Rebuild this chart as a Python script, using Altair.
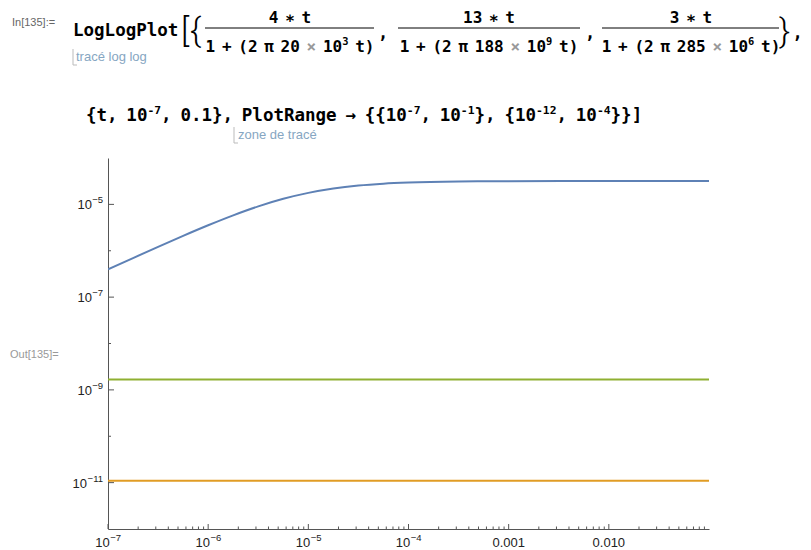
import re
import altair as alt
import pandas as pd

# ---- data ----
t_blue = [1e-7, 1.778e-7, 3.162e-7, 5.623e-7, 1e-6, 1.778e-6, 3.162e-6, 5.623e-6,
          1e-5, 1.778e-5, 3.162e-5, 5.623e-5, 1e-4, 3.162e-4, 1e-3, 1e-2, 0.1]
y_blue = [3.95e-7, 6.96e-7, 1.216e-6, 2.10e-6, 3.55e-6, 5.81e-6, 9.05e-6, 1.318e-5,
          1.77e-5, 2.20e-5, 2.545e-5, 2.79e-5, 2.95e-5, 3.11e-5, 3.157e-5, 3.18e-5, 3.183e-5]
t_green = [1e-7, 0.1]
y_green = [1.67e-9, 1.675e-9]
t_orange = [1e-7, 0.1]
y_orange = [1.10e-11, 1.10e-11]

series_names = ["f1", "f2", "f3"]
series_colors = ["#5E81B5", "#E19C24", "#8FB032"]

x_pow_values = [1e-7, 1e-6, 1e-5, 1e-4]
x_pow_exps = ["−7", "−6", "−5", "−4"]
x_dec_values = [1e-3, 1e-2]
x_dec_labels = ["0.001", "0.010"]
y_tick_values = [1e-11, 1e-9, 1e-7, 1e-5]
y_tick_exps = ["−11", "−9", "−7", "−5"]
y_minor_values = [1e-10, 1e-8, 1e-6]
x_major_values = x_pow_values + x_dec_values
x_minor_values = [m * 10.0 ** k for k in range(-7, -1) for m in range(2, 10)]

rows = []
for n, ts, ys in [("f1", t_blue, y_blue), ("f2", t_orange, y_orange), ("f3", t_green, y_green)]:
    for t, y in zip(ts, ys):
        rows.append({"series": n, "t": t, "v": y})
df = pd.DataFrame(rows)

W, H = 601, 371
OX, OY = 108, 158  # page position of plot origin

xscale = alt.Scale(type="log", domain=[1e-7, 0.1], nice=False)
yscale = alt.Scale(type="log", domain=[1e-12, 1e-4], nice=False)
AX = dict(ticks=False, grid=False, labels=False, domainColor="#555", title=None)

lines = alt.Chart(df).mark_line(strokeWidth=2, interpolate="monotone", clip=True).encode(
    x=alt.X("t:Q", scale=xscale, title=None, axis=alt.Axis(**AX)),
    y=alt.Y("v:Q", scale=yscale, title=None, axis=alt.Axis(**AX)),
    color=alt.Color("series:N", scale=alt.Scale(domain=series_names, range=series_colors), legend=None),
)

# inward tick marks
tick_color = "#555"
xt_major = alt.Chart(pd.DataFrame({"t": x_major_values})).mark_rule(color=tick_color).encode(
    x=alt.X("t:Q", scale=xscale), y=alt.value(H), y2=alt.value(H - 5))
xt_minor = alt.Chart(pd.DataFrame({"t": x_minor_values})).mark_rule(color=tick_color).encode(
    x=alt.X("t:Q", scale=xscale), y=alt.value(H), y2=alt.value(H - 2.5))
yt_major = alt.Chart(pd.DataFrame({"v": y_tick_values})).mark_rule(color=tick_color).encode(
    y=alt.Y("v:Q", scale=yscale), x=alt.value(0), x2=alt.value(6))
yt_minor = alt.Chart(pd.DataFrame({"v": y_minor_values})).mark_rule(color=tick_color).encode(
    y=alt.Y("v:Q", scale=yscale), x=alt.value(0), x2=alt.value(3))

# tick labels with real superscripts
SANS = "Liberation Sans"
LAB = dict(font=SANS, color="#222")
BASE_FS, EXP_FS = 13, 9.5
xl_base = alt.Chart(pd.DataFrame({"t": x_pow_values, "s": ["10"] * 4})).mark_text(
    fontSize=BASE_FS, align="right", baseline="alphabetic", dx=1.8, **LAB).encode(
    x=alt.X("t:Q", scale=xscale), y=alt.value(H + 18), text="s:N")
xl_exp = alt.Chart(pd.DataFrame({"t": x_pow_values, "s": x_pow_exps})).mark_text(
    fontSize=EXP_FS, align="left", baseline="alphabetic", dx=2.3, **LAB).encode(
    x=alt.X("t:Q", scale=xscale), y=alt.value(H + 12), text="s:N")
xl_dec = alt.Chart(pd.DataFrame({"t": x_dec_values, "s": x_dec_labels})).mark_text(
    fontSize=BASE_FS, align="center", baseline="alphabetic", **LAB).encode(
    x=alt.X("t:Q", scale=xscale), y=alt.value(H + 18), text="s:N")

yl_exp = alt.Chart(pd.DataFrame({"v": y_tick_values, "s": y_tick_exps})).mark_text(
    fontSize=EXP_FS, align="right", baseline="alphabetic", dy=-1, **LAB).encode(
    y=alt.Y("v:Q", scale=yscale), x=alt.value(-5), text="s:N")
yl_base_wide = alt.Chart(pd.DataFrame({"v": y_tick_values[:1], "s": ["10"]})).mark_text(
    fontSize=BASE_FS, align="right", baseline="alphabetic", dy=5, **LAB).encode(
    y=alt.Y("v:Q", scale=yscale), x=alt.value(-21), text="s:N")
yl_base = alt.Chart(pd.DataFrame({"v": y_tick_values[1:], "s": ["10"] * 3})).mark_text(
    fontSize=BASE_FS, align="right", baseline="alphabetic", dy=5, **LAB).encode(
    y=alt.Y("v:Q", scale=yscale), x=alt.value(-16), text="s:N")

layers = [lines, xt_major, xt_minor, yt_major, yt_minor,
          xl_base, xl_exp, xl_dec, yl_exp, yl_base_wide, yl_base]

MONO = "DejaVu Sans Mono"
ADV = 0.602


def code_run(src, x, baseline, size, align="left", space=0.45):
    """Lay out a line of Mathematica-like input: ^{..} is a superscript, × is grey."""
    toks = []
    for m in re.finditer(r"\^\{([^}]*)\}| |×|[^ ^×]+", src):
        g = m.group(0)
        if g == " ":
            toks.append(("", "sp"))
        elif g.startswith("^{"):
            toks.append((m.group(1), "sup"))
        elif g == "×":
            toks.append((g, "grey"))
        else:
            toks.append((g, "n"))

    def width(t, k):
        if k == "sp":
            return space * size
        if k == "sup":
            return len(t) * ADV * size * 0.65
        return len(t) * ADV * size

    total = sum(width(t, k) for t, k in toks)
    cx = x - total / 2 if align == "center" else x
    out = []
    for t, k in toks:
        if k != "sp":
            out.append((t, cx, baseline - (0.42 * size if k == "sup" else 0),
                        size * (0.65 if k == "sup" else 1), MONO, "bold",
                        "#999" if k == "grey" else "#000", "left"))
        cx += width(t, k)
    return out


BR = "Roboto"
texts = [
    ("In[135]:=", 12, 26, 11, SANS, "normal", "#666", "left"),
    ("[", 181, 42, 34, BR, 300, "#000", "left"),
    ("{", 190, 42, 34, BR, 300, "#000", "left"),
    (",", 378, 39, 17, MONO, "bold", "#000", "left"),
    (",", 585, 39, 17, MONO, "bold", "#000", "left"),
    ("}", 779, 42, 34, BR, 300, "#000", "left"),
    (",", 792.5, 39, 17, MONO, "bold", "#000", "left"),
    ("tracé log log", 76, 61, 13, SANS, "normal", "#86A6C2", "left"),
    ("zone de tracé", 238, 139, 13, SANS, "normal", "#86A6C2", "left"),
    ("Out[135]=", 10, 358, 11, SANS, "normal", "#999", "left"),
]
texts += code_run("LogLogPlot", 73, 36, 17.5)
texts += code_run("4 ∗ t", 290, 23, 16, "center", 0.42)
texts += code_run("1 + (2 π 20 × 10^{3} t)", 290, 52, 16, "center", 0.42)
texts += code_run("13 ∗ t", 489, 23, 16, "center", 0.42)
texts += code_run("1 + (2 π 188 × 10^{9} t)", 489, 52, 16, "center", 0.42)
texts += code_run("3 ∗ t", 691, 23, 16, "center", 0.42)
texts += code_run("1 + (2 π 285 × 10^{6} t)", 691, 52, 16, "center", 0.42)
texts += code_run("{t, 10^{-7}, 0.1}, PlotRange → {{10^{-7}, 10^{-1}}, {10^{-12}, 10^{-4}}}]",
                  86, 121, 17.5, "left", 0.5)

for txt, px, py, size, font, weight, color, align in texts:
    layers.append(
        alt.Chart(pd.DataFrame({"s": [txt]})).mark_text(
            font=font, fontSize=size, fontWeight=weight, color=color, align=align,
            baseline="alphabetic").encode(
            text="s:N", x=alt.value(px - OX), y=alt.value(py - OY))
    )

# fraction bars and small brackets (page coordinates)
rules = [
    (205, 374, 28, 28, "#000"),
    (398, 580, 28, 28, "#000"),
    (602, 779, 28, 28, "#000"),
    (73, 73, 49, 65, "#bbb"),
    (73, 77, 65, 65, "#bbb"),
    (234, 234, 127, 143, "#bbb"),
    (234, 238, 143, 143, "#bbb"),
]
for x1, x2, y1, y2, c in rules:
    layers.append(
        alt.Chart(pd.DataFrame({"a": [0]})).mark_rule(color=c, strokeWidth=1).encode(
            x=alt.value(x1 - OX), x2=alt.value(x2 - OX), y=alt.value(y1 - OY), y2=alt.value(y2 - OY))
    )

chart = alt.layer(*layers).properties(
    width=W, height=H,
    autosize=alt.AutoSizeParams(type="none"),
    padding={"left": OX - 8, "top": OY - 8, "right": 795 - (OX - 8) - W, "bottom": 20},
    background="white",
).configure_view(stroke=None)

chart.save("out.html", embed_options={"renderer": "svg", "actions": False})
